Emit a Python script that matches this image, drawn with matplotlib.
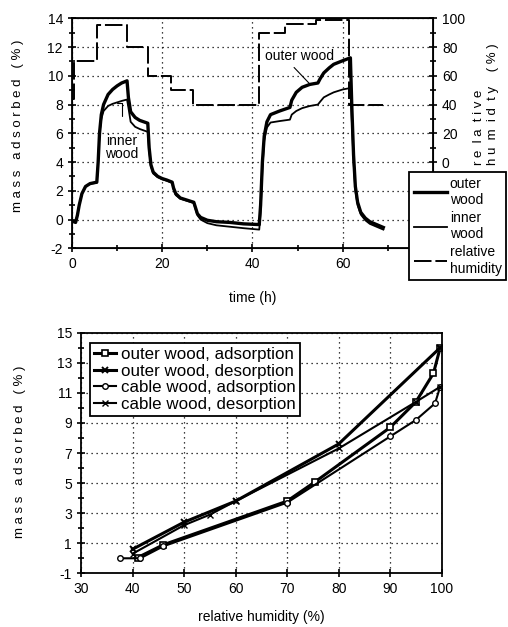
import matplotlib
matplotlib.use("Agg")
import matplotlib.pyplot as plt
from matplotlib.ticker import MultipleLocator

plt.rcParams['font.family'] = ['Liberation Sans', 'DejaVu Sans']
plt.rcParams['font.size'] = 10
plt.rcParams['axes.unicode_minus'] = False

# --- sorption run: mass change vs time ---
time_h = [0, 0.8, 1.2, 1.6, 2.2, 3, 4, 5.5, 5.8, 6.1, 6.5, 7, 8, 9, 10, 11, 12.2,
          12.5, 13, 14, 15, 16.8, 17.1, 17.5, 18, 19, 20, 21, 22.2, 22.5, 23, 24,
          25, 27, 27.3, 27.8, 28.5, 30, 32, 35, 38, 41.5, 41.8, 42.2, 42.6, 43.2,
          44, 46, 48.3, 48.7, 49.7, 51, 52.7, 54.5, 55, 55.8, 57, 58, 60, 61.7,
          62, 62.4, 62.8, 63.3, 64, 65, 66, 67.5, 69]
outer_mass = [-0.1, -0.2, 0.3, 1.0, 1.8, 2.3, 2.5, 2.6, 4.0, 6.0, 7.3, 8.0, 8.7,
              9.05, 9.3, 9.5, 9.65, 8.5, 7.5, 7.1, 6.9, 6.7, 5.0, 3.8, 3.3, 3.0,
              2.85, 2.75, 2.6, 2.2, 1.8, 1.5, 1.4, 1.2, 0.9, 0.4, 0.15, -0.05,
              -0.15, -0.2, -0.3, -0.35, 1.0, 4.0, 5.8, 6.8, 7.3, 7.55, 7.8, 8.3,
              8.85, 9.2, 9.4, 9.5, 9.8, 10.2, 10.55, 10.8, 11.05, 11.25, 8.0, 4.5,
              2.3, 1.2, 0.5, 0.1, -0.15, -0.35, -0.55]
inner_mass = [-0.1, -0.2, 0.3, 1.0, 1.8, 2.3, 2.5, 2.55, 4.0, 6.0, 7.0, 7.55, 7.9,
              8.05, 8.15, 8.25, 8.35, 7.8, 6.8, 6.45, 6.3, 6.1, 4.8, 3.7, 3.2,
              2.95, 2.8, 2.7, 2.55, 2.1, 1.7, 1.45, 1.35, 1.15, 0.8, 0.3, 0.0,
              -0.25, -0.4, -0.5, -0.6, -0.7, 0.5, 3.5, 5.5, 6.4, 6.75, 6.85, 6.95,
              7.3, 7.55, 7.75, 7.9, 8.0, 8.2, 8.5, 8.7, 8.85, 9.05, 9.15, 7.0, 4.0,
              2.0, 1.0, 0.35, -0.05, -0.3, -0.5, -0.7]

# humidity steps (value holds until next time)
rh_time = [0, 0.5, 5.5, 12.2, 16.8, 21.9, 26.9, 41.5, 47.2, 54.0, 61.4, 69]
rh_value = [44, 70, 95, 80, 60, 50, 40, 90, 96, 98.5, 40, 40]

# --- isotherms: mass vs relative humidity ---
outer_ads_rh = [41, 46, 70, 75.5, 90, 95, 98.4, 99.7]
outer_ads_mass = [0.05, 0.9, 3.8, 5.1, 8.7, 10.4, 12.3, 14.0]
outer_des_rh = [99.7, 80, 60, 50, 40]
outer_des_mass = [14.0, 7.6, 3.8, 2.4, 0.6]
cable_ads_rh = [37.5, 41.5, 46, 70, 90, 95, 98.7, 99.7]
cable_ads_mass = [0.0, 0.0, 0.8, 3.7, 8.1, 9.2, 10.3, 11.4]
cable_des_rh = [99.7, 95, 80, 60, 55, 50, 40]
cable_des_mass = [11.4, 10.4, 7.3, 3.8, 2.9, 2.2, 0.3]

fig = plt.figure(figsize=(5.08, 6.27), dpi=100)

# top panel
ax = fig.add_axes([0.1417, 0.604, 0.7106, 0.3668])
ax.set_xlim(0, 80)
ax.set_ylim(-2, 14)
ax.xaxis.set_major_locator(MultipleLocator(20))
ax.xaxis.set_minor_locator(MultipleLocator(10))
ax.yaxis.set_major_locator(MultipleLocator(2))
ax.yaxis.set_minor_locator(MultipleLocator(1))
ax.grid(True, which='major', linestyle=(0, (1, 3)), color='black', linewidth=0.9)
ax.tick_params(which='both', direction='inout', length=6, width=1.2)
ax.tick_params(which='minor', length=4)
for s in ax.spines.values():
    s.set_linewidth(1.3)

l1, = ax.plot(time_h, outer_mass, color='black', lw=2.4, label='outer\nwood')
l2, = ax.plot(time_h, inner_mass, color='black', lw=1.3, label='inner\nwood')

ax2 = ax.twinx()
ax2.set_ylim(-60, 100)
ax2.set_yticks([0, 20, 40, 60, 80, 100])
ax2.yaxis.set_minor_locator(MultipleLocator(10))
ax2.tick_params(which='both', direction='inout', length=6, width=1.2)
ax2.tick_params(which='minor', length=4)
l3, = ax2.plot(rh_time, rh_value, color='black', lw=1.4, drawstyle='steps-post',
               dashes=(9, 2), label='relative\nhumidity')

ax.set_xlabel('time (h)', labelpad=14)
ax.annotate('outer wood', xy=(52.5, 9.5), xytext=(50.5, 11.4), ha='center', va='center',
            arrowprops=dict(arrowstyle='-', color='black', lw=0.8, shrinkA=2, shrinkB=0,
                            relpos=(0.35, 0)))
ax.annotate('inner\nwood', xy=(9.9, 8.1), xytext=(11.0, 5.0), ha='center', va='center',
            linespacing=0.9,
            arrowprops=dict(arrowstyle='-', color='black', lw=0.8, shrinkA=11, shrinkB=0,
                            connectionstyle='angle,angleA=90,angleB=0,rad=0'))

leg = fig.legend(handles=[l1, l2, l3], loc='upper left', bbox_to_anchor=(0.806, 0.725),
                 frameon=True, fancybox=False, edgecolor='black', framealpha=1,
                 handlelength=2.4, handletextpad=0.2, borderaxespad=0, borderpad=0.3,
                 labelspacing=0.3, fontsize=10)
leg.get_frame().set_linewidth(1.3)

fig.text(0.036, 0.80, 'm a s s   a d s o r b e d   ( % )', rotation=90,
         ha='center', va='center', fontsize=9.5)
fig.text(0.943, 0.737, 'r e  l a  t i v e', rotation=90, ha='center', va='bottom',
         fontsize=9.5)
fig.text(0.971, 0.737, 'h u  m  i d  t y    ( % )', rotation=90, ha='center',
         va='bottom', fontsize=9.5)

# bottom panel
bx = fig.add_axes([0.1594, 0.0856, 0.7101, 0.3838])
bx.set_xlim(30, 100)
bx.set_ylim(-1, 15)
bx.xaxis.set_major_locator(MultipleLocator(10))
bx.set_yticks(list(range(-1, 16, 2)))
bx.set_yticks(list(range(0, 15, 2)), minor=True)
bx.grid(True, which='major', linestyle=(0, (1, 3)), color='black', linewidth=0.9)
bx.tick_params(which='both', direction='inout', length=6, width=1.2)
bx.tick_params(which='minor', length=4)
for s in bx.spines.values():
    s.set_linewidth(1.3)

bx.plot(outer_ads_rh, outer_ads_mass, color='black', lw=2.2, marker='s', ms=4,
        mfc='white', mew=1.2, label='outer wood, adsorption')
bx.plot(outer_des_rh, outer_des_mass, color='black', lw=2.2, marker='x', ms=5,
        mew=1.4, label='outer wood, desorption')
bx.plot(cable_ads_rh, cable_ads_mass, color='black', lw=1.5, marker='o', ms=4,
        mfc='white', mew=1.0, label='cable wood, adsorption')
bx.plot(cable_des_rh, cable_des_mass, color='black', lw=1.5, marker='x', ms=4,
        mew=1.0, label='cable wood, desorption')
bx.set_xlabel('relative humidity (%)', labelpad=10)

leg2 = bx.legend(loc='upper left', bbox_to_anchor=(0.025, 0.958), frameon=True,
                 fancybox=False, edgecolor='black', framealpha=1, fontsize=12.2,
                 handlelength=1.3, handletextpad=0.3, borderaxespad=0, borderpad=0.25,
                 labelspacing=0.1)
leg2.get_frame().set_linewidth(1.3)

fig.text(0.039, 0.279, 'm a s s   a d s o r b e d   ( % )', rotation=90,
         ha='center', va='center', fontsize=9.5)

fig.savefig('out.png', dpi=100)
